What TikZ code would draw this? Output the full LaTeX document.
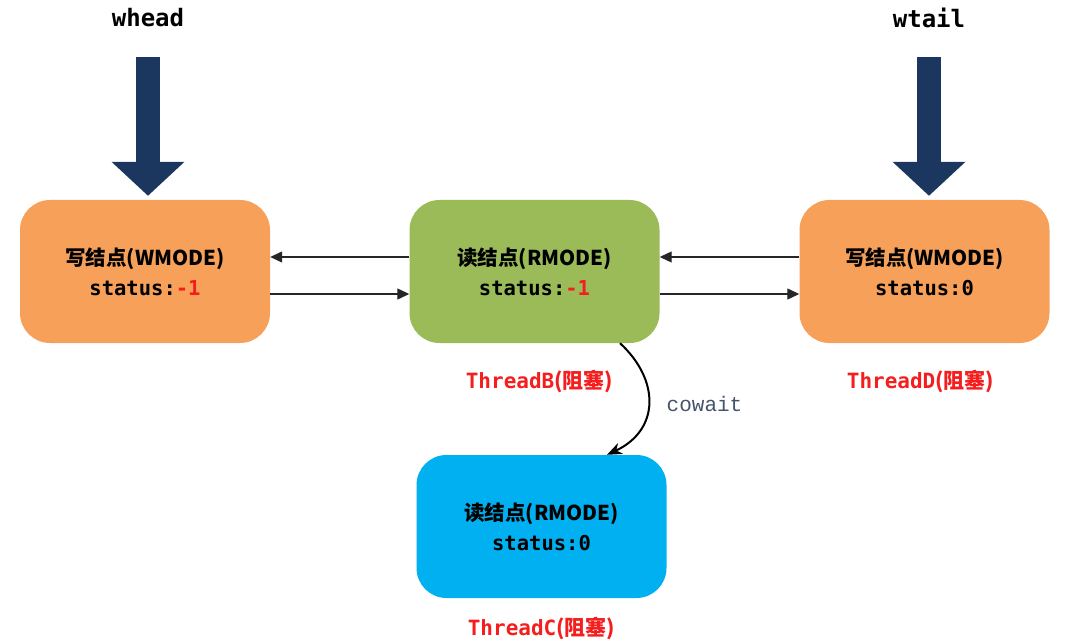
\documentclass[tikz,border=0pt]{standalone}
\usepackage{fontspec}
\setmonofont{DejaVu Sans Mono}
\newfontfamily\cjk{Noto Sans CJK SC}
\newfontfamily\courier{Liberation Mono}
\usetikzlibrary{positioning,arrows.meta}

\definecolor{worange}{RGB}{246,160,90}
\definecolor{rgreen}{RGB}{155,187,89}
\definecolor{rblue}{RGB}{0,176,240}
\definecolor{ptrblue}{RGB}{28,55,95}
\definecolor{statred}{RGB}{245,30,30}
\definecolor{waitgray}{RGB}{68,84,106}

\tikzset{
	qnode/.style={rounded corners=30pt,minimum width=250pt,minimum height=143pt,align=center,inner sep=0pt,font=\fontsize{20.5}{30}\selectfont},
	ptr/.style={line width=24pt,draw=ptrblue,-{Triangle[width=71pt,length=34pt]},shorten <=26pt,shorten >=4pt},
	link/.style={draw=black!85,line width=1.2pt,-{Triangle[length=12pt,width=11pt]}},
	thread/.style={text=statred,font=\fontsize{21}{24}\selectfont}
}
\newcommand{\ndtitle}[1]{{\cjk\bfseries #1}}
\newcommand{\ndstat}[1]{{\ttfamily\bfseries status:#1}}
\newcommand{\thr}[1]{{\ttfamily\bfseries #1}{\cjk\bfseries(阻塞)}}

\begin{document}
\begin{tikzpicture}[x=1pt,y=-1pt]
	\useasboundingbox (0,0) rectangle (1073,644);

	\node[qnode,fill=worange] (w1) at (145,271.5) {\ndtitle{写结点(WMODE)}\\\ndstat{\textcolor{statred}{-1}}};
	\node[qnode,fill=rgreen] (r1) at (534.5,271.5) {\ndtitle{读结点(RMODE)}\\\ndstat{\textcolor{statred}{-1}}};
	\node[qnode,fill=worange] (w2) at (924.5,271.5) {\ndtitle{写结点(WMODE)}\\\ndstat{0}};
	\node[qnode,fill=rblue] (r2) at (541.5,526.5) {\ndtitle{读结点(RMODE)}\\\ndstat{0}};

	\node[font=\fontsize{24}{28}\selectfont\ttfamily\bfseries] (whead) at (148,18) {whead};
	\node[font=\fontsize{24}{28}\selectfont\ttfamily\bfseries] (wtail) at (929,18) {wtail};

	\draw[ptr] (whead.south) -- (whead |- w1.north);
	\draw[ptr] (wtail.south) -- (wtail |- w2.north);

	\draw[link] ([yshift=14.5pt]r1.west) -- ([yshift=14.5pt]w1.east);
	\draw[link] ([yshift=-22.5pt]w1.east) -- ([yshift=-22.5pt]r1.west);
	\draw[link] ([yshift=14.5pt]w2.west) -- ([yshift=14.5pt]r1.east);
	\draw[link] ([yshift=-22.5pt]r1.east) -- ([yshift=-22.5pt]w2.west);

	\node[thread,below=23pt of r1,xshift=5pt] (tb) {\thr{ThreadB}};
	\node[thread,below=23pt of w2,xshift=-4pt] (td) {\thr{ThreadD}};
	\node[thread,below=15pt of r2] (tc) {\thr{ThreadC}};

	\draw[line width=2pt,-{Stealth[length=15pt,width=12pt]}] ([xshift=85.5pt]r1.south) .. controls (660,380) and (660,430) .. ([xshift=65.5pt]r2.north) node[pos=0.5,right=14pt,text=waitgray,font=\fontsize{21}{24}\selectfont\courier] (cw) {cowait};
\end{tikzpicture}
\end{document}
